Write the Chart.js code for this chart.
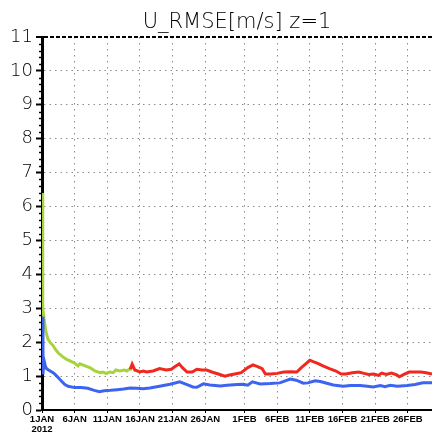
<!DOCTYPE html>
<html>
	<head>
		<meta charset="utf-8">
		<title>U_RMSE z=1</title>
		<style>
			html, body { margin: 0; padding: 0; background: #fff; overflow: hidden; }
			#wrap { width: 432px; height: 434px; }
		</style>
	</head>

	<body>
		<div id="wrap"><canvas id="canvasChart"></canvas></div>

		<script src="https://cdn.jsdelivr.net/npm/chart.js"></script>
		<script>

			var titleText = 'U_RMSE[m/s] z=1';

			// days since 1 Jan 2012 00Z
			var tickDays = [0, 5, 10, 15, 20, 25, 31, 36, 41, 46, 51, 56];
			var tickLabels = [["1JAN", "2012"], "6JAN", "11JAN", "16JAN", "21JAN", "26JAN",
				"1FEB", "6FEB", "11FEB", "16FEB", "21FEB", "26FEB"];

			// first run (green), up to mid January
			var greenDays = [0, 0.08, 0.15, 0.3, 0.6, 0.9, 1.2, 1.7, 2, 2.5, 3.1, 3.7, 4.6, 5, 5.5, 5.8,
				6.6, 7.4, 8.1, 8.9, 9.3, 9.8, 10.4, 10.9, 11.3, 11.9, 12.6, 13, 13.5, 13.8];
			var greenVals = [6.4, 4.6, 3.0, 2.7, 2.3, 2.1, 2.0, 1.9, 1.8, 1.68, 1.58, 1.5, 1.42, 1.38, 1.3, 1.36,
				1.3, 1.24, 1.15, 1.1, 1.12, 1.08, 1.12, 1.1, 1.18, 1.15, 1.18, 1.15, 1.22, 1.2];

			// second run (red), from mid January on
			var redDays = [13.5, 13.8, 14.2, 15, 15.5, 16, 17, 18, 19, 19.8, 20.5, 21, 21.5, 22.2, 23, 23.7,
				24.5, 25.2, 26, 27, 28, 28.7, 29.5, 30.5, 31.5, 32.3, 33, 33.7, 34.2, 35, 36, 37, 38, 39,
				39.7, 40.5, 41, 41.6, 42.3, 43, 44, 45, 45.8, 46.5, 47.5, 48.5, 49.3, 50, 50.8, 51.5, 52,
				52.7, 53.5, 54.3, 54.7, 55.4, 56.2, 57, 58, 58.8, 59.7];
			var redVals = [1.2, 1.35, 1.18, 1.12, 1.15, 1.12, 1.15, 1.22, 1.18, 1.2, 1.3, 1.36, 1.25, 1.12, 1.12, 1.2,
				1.18, 1.18, 1.12, 1.06, 1.0, 1.03, 1.06, 1.1, 1.25, 1.33, 1.28, 1.22, 1.06, 1.06, 1.08, 1.12, 1.13, 1.12,
				1.25, 1.38, 1.47, 1.42, 1.37, 1.3, 1.22, 1.15, 1.06, 1.06, 1.1, 1.12, 1.08, 1.05, 1.06, 1.02, 1.09,
				1.05, 1.09, 1.04, 0.98, 1.05, 1.12, 1.12, 1.12, 1.1, 1.06];

			// full period (blue)
			var blueDays = [0, 0.15, 0.3, 0.5, 0.7, 1, 1.7, 2, 2.5, 3, 3.5, 4, 5, 6, 7, 8, 8.8, 9.5, 10.5,
				11.5, 12.5, 13.5, 14.5, 15.5, 16.5, 18, 19.6, 21.1, 22.2, 23.1, 23.7, 24.7, 25.7, 27.3, 28.3,
				29.9, 30.8, 31.5, 32.2, 33.4, 34.9, 36.4, 38, 38.9, 40, 40.7, 41.8, 42.6, 44.6, 46.1, 47.2,
				48.7, 49.8, 50.7, 51.8, 52.5, 53.3, 54.4, 55.9, 57.1, 58.3, 59.7];
			var blueVals = [2.75, 1.05, 1.47, 1.3, 1.22, 1.18, 1.1, 1.05, 0.95, 0.85, 0.75, 0.7, 0.66, 0.66, 0.64, 0.58, 0.54, 0.57, 0.58,
				0.6, 0.62, 0.65, 0.64, 0.63, 0.65, 0.7, 0.76, 0.83, 0.75, 0.68, 0.67, 0.77, 0.74, 0.71, 0.73,
				0.75, 0.76, 0.73, 0.83, 0.77, 0.78, 0.8, 0.91, 0.88, 0.79, 0.8, 0.86, 0.84, 0.74, 0.7, 0.72,
				0.72, 0.7, 0.68, 0.72, 0.69, 0.73, 0.7, 0.72, 0.75, 0.8, 0.8];

			function toPoints(days, vals) {
				return days.map(function(d, i) { return {x: d, y: vals[i]}; });
			}

			var thinFont = "'DejaVu Sans', 'Liberation Sans', Arial, sans-serif";

			// title centred over the plot area, plus small unlabeled ticks on the left axis every 0.2
			var decorations = {
				id: 'decorations',
				afterDraw: function(chart) {
					var ys = chart.scales.y;
					var area = chart.chartArea;
					var ctx = chart.ctx;
					ctx.save();
					ctx.fillStyle = '#000';
					ctx.font = '200 21px ' + thinFont;
					ctx.textAlign = 'center';
					ctx.textBaseline = 'alphabetic';
					ctx.fillText(titleText, (area.left + area.right) / 2, 28);

					ctx.strokeStyle = '#000';
					ctx.lineWidth = 1.5;
					for (var v = 0.2; v < 11; v += 0.2) {
						if (Math.abs(v - Math.round(v)) < 0.01) continue;
						var py = Math.round(ys.getPixelForValue(v)) + 0.5;
						ctx.beginPath();
						ctx.moveTo(ys.right - 3, py);
						ctx.lineTo(ys.right, py);
						ctx.stroke();
					}
					ctx.restore();
				}
			};

			new Chart(document.getElementById('canvasChart'), {
				type: 'line',
				data: {
					datasets: [{
						data: toPoints(blueDays, blueVals),
						borderColor: '#3c64f0',
						borderWidth: 3
					}, {
						data: toPoints(redDays, redVals),
						borderColor: '#f0281e',
						borderWidth: 3
					}, {
						data: toPoints(greenDays, greenVals),
						borderColor: '#a6d43a',
						borderWidth: 3
					}]
				},
				options: {
					responsive: true,
					maintainAspectRatio: false,
					animation: false,
					elements: { point: { radius: 0 }, line: { tension: 0 } },
					layout: { padding: { top: 37, left: 0, right: 0, bottom: 0 } },
					plugins: {
						legend: { display: false },
						tooltip: { enabled: false },
						title: { display: false }
					},
					scales: {
						x: {
							type: 'linear',
							min: 0,
							max: 59.7,
							afterBuildTicks: function(scale) {
								scale.ticks = tickDays.map(function(d) { return {value: d}; });
							},
							afterFit: function(scale) { scale.height = 24; },
							ticks: {
								autoSkip: false,
								maxRotation: 0,
								padding: 1,
								color: '#000',
								font: { family: "'Liberation Sans', Arial, sans-serif", size: 9.5, weight: 'bold', lineHeight: 1.05 },
								callback: function(value) {
									var i = tickDays.indexOf(value);
									return i >= 0 ? tickLabels[i] : '';
								}
							},
							grid: {
								color: '#8c8c8c',
								lineWidth: 1,
								tickColor: '#000',
								tickLength: 3,
								tickWidth: 1
							},
							border: { color: '#000', width: 2, dash: [1.5, 4.5] }
						},
						y: {
							min: 0,
							max: 11,
							afterFit: function(scale) { scale.width = 42; },
							ticks: {
								stepSize: 1,
								padding: 3,
								color: '#000',
								font: { family: thinFont, size: 18, weight: 200 }
							},
							grid: {
								color: function(c) { return c.tick && c.tick.value === 11 ? '#000' : '#8c8c8c'; },
								lineWidth: function(c) { return c.tick && c.tick.value === 11 ? 2 : 1; },
								tickColor: '#000',
								tickLength: 6,
								tickWidth: 2
							},
							border: {
								color: '#000',
								width: 3,
								dash: function(c) { return c.tick && c.tick.value === 11 ? [4, 2] : [1.5, 4]; }
							}
						}
					}
				},
				plugins: [decorations]
			});

		</script>
	</body>
</html>
